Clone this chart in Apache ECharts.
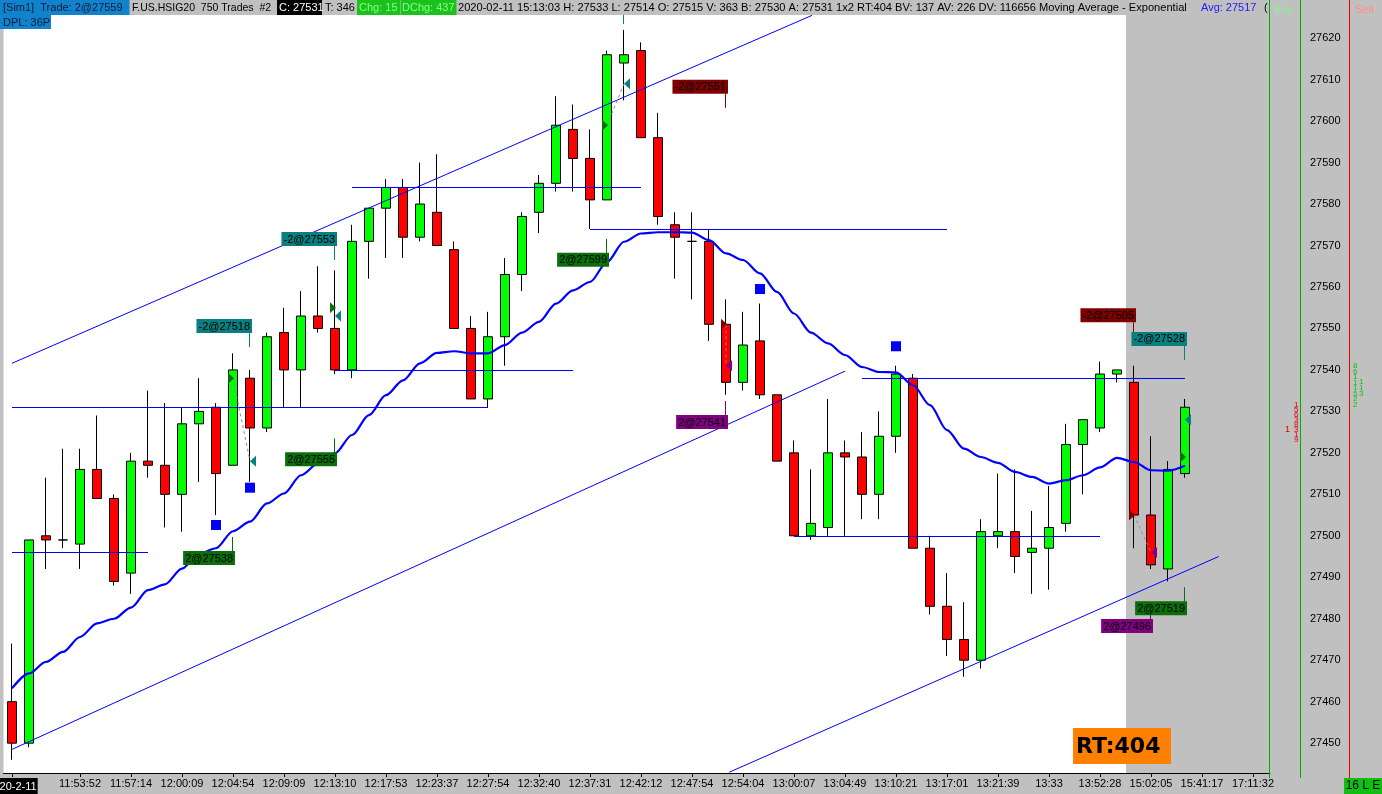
<!DOCTYPE html>
<html><head><meta charset="utf-8">
<script src="https://cdn.jsdelivr.net/npm/echarts@6/dist/echarts.min.js"></script>
<style>html,body{margin:0;padding:0;background:#c0c0c0;overflow:hidden}#c{width:1382px;height:794px}</style>
</head><body><div id="c"></div>
<script>
// ---------- data ----------
const opens  = [27460,27450,27500,27499,27498,27516,27509,27491,27518,27517,27510,27527,27531,27517,27538,27526,27549,27540,27553,27550,27540,27571,27579,27584,27572,27578,27569,27550,27533,27548,27563,27578,27585,27598,27591,27581,27614,27617,27596,27575,27571,27571,27551,27537,27547,27534,27520,27500,27502,27520,27519,27510,27524,27538,27497,27483,27475,27470,27500,27501,27496,27497,27503,27522,27526,27539,27537,27505,27492,27515];
const closes = [27450,27499,27499,27499,27516,27509,27489,27518,27517,27510,27527,27530,27515,27540,27526,27548,27540,27553,27550,27540,27571,27579,27584,27572,27580,27570,27550,27533,27548,27563,27577,27585,27599,27591,27581,27616,27616,27596,27577,27572,27571,27551,27537,27546,27534,27518,27500,27503,27520,27519,27510,27524,27539,27497,27483,27475,27470,27501,27501,27495,27497,27502,27522,27528,27539,27540,27505,27493,27516,27531];
const lows   = [27446,27449,27492,27497,27492,27509,27488,27486,27514,27502,27501,27513,27505,27517,27513,27525,27531,27531,27549,27539,27538,27562,27567,27567,27571,27570,27550,27533,27531,27541,27559,27573,27583,27583,27574,27581,27605,27596,27575,27562,27557,27547,27534,27535,27533,27518,27500,27499,27500,27500,27504,27504,27520,27497,27481,27471,27466,27468,27497,27491,27486,27487,27501,27510,27525,27537,27497,27492,27489,27514];
const highs  = [27474,27499,27514,27521,27521,27529,27510,27520,27535,27532,27531,27538,27532,27544,27540,27549,27555,27559,27565,27564,27575,27579,27586,27586,27590,27592,27571,27553,27554,27567,27578,27587,27606,27604,27598,27617,27622,27619,27602,27578,27578,27574,27557,27554,27556,27534,27523,27516,27533,27523,27525,27530,27541,27539,27500,27491,27484,27504,27515,27516,27506,27512,27527,27528,27542,27540,27541,27524,27518,27533];
const emaValues = [27463.2,27466.8,27469.6,27472,27475.6,27478.9,27480,27482.7,27486.9,27488.3,27492.1,27495.7,27497,27501.1,27503.4,27507.8,27510.2,27514.6,27517.4,27519.9,27524.3,27529.1,27533.9,27537.5,27541.6,27544.1,27544.5,27544,27544,27546,27549,27551.6,27556,27559.2,27561.2,27566,27570.9,27572.9,27573.2,27573.2,27573.1,27571.3,27568.1,27566.5,27563.3,27558.8,27553.6,27549,27546.4,27543.6,27540.7,27539.5,27539.4,27536.3,27531.5,27525.5,27521,27519,27517.6,27515.4,27514.2,27512.6,27513.4,27514.6,27516.5,27518.8,27517.8,27515.8,27515.7,27516.9];

const tickIdx  = [0,4,7,10,13,16,19,22,25,28,31,34,37,40,43,46,49,52,55,58,61,64,67,70,73];
const tickText = ['2020-2-11','11:53:52','11:57:14','12:00:09','12:04:54','12:09:09','12:13:10','12:17:53','12:23:37','12:27:54','12:32:40','12:37:31','12:42:12','12:47:54','12:54:04','13:00:07','13:04:49','13:10:21','13:17:01','13:21:39','13:33','13:52:28','15:02:05','15:41:17','17:11:32'];
const priceTicks = [27450,27460,27470,27480,27490,27500,27510,27520,27530,27540,27550,27560,27570,27580,27590,27600,27610,27620];

// horizontal levels
const levelPrice = [27496,27531,27540,27584,27574,27538,27500];
const levelFrom  = [0,0,19,20,34,50,46];
const levelTo    = [8,28,33,37,55,69,64];
// channel lines
const chanX0 = [0,0,42.2];
const chanP0 = [27541.6,27448.5,27443];
const chanX1 = [47.06,49,70.98];
const chanP1 = [27625.5,27539.7,27495];

// trades
const tradeText  = ['2@27538','-2@27518','2@27555','-2@27553','2@27599','-2@27609','-2@27551','2@27541','-2@27505','2@27496','2@27519','-2@27528'];
const tradeIdx   = [13,14,19,19,35,36,42,42,66,67,69,69];
const tradePrice = [27538,27518,27555,27553,27599,27609,27551,27541,27505,27496,27519,27528];
const tradeKind  = ['L','X','L','X','L','X','S','C','S','C','L','X'];
const tagLevel   = [27499.7,27545.5,27523.5,27566.5,27571.6,27623.4,27603.2,27532.5,27548.1,27483.3,27487.6,27542.4];
const linkFrom = [0,4,6,8,10];
const linkTo   = [1,5,7,9,11];
// signal squares
const sqIdx   = [12,14,44,52];
const sqPrice = [27502.6,27511.6,27559.5,27545.7];
const futureStart = 65.5;
const lastPrice = 27531;

// ---------- chart ----------
const FONT = '"Liberation Sans", Arial, sans-serif';
const kindColor = {L:'#0a6e0a', X:'#0a7f80', S:'#800000', C:'#800080'};
const chart = echarts.init(document.getElementById('c'), null, {renderer:'canvas', width:1382, height:794});

const candleData = opens.map((o,i)=>[i,o,closes[i],lows[i],highs[i]]);
const emaData = emaValues.map((v,i)=>[i,v]);
const lineData = [];
levelPrice.forEach((p,k)=>lineData.push([levelFrom[k],p,levelTo[k],p]));
chanX0.forEach((x,k)=>lineData.push([x,chanP0[k],chanX1[k],chanP1[k]]));
const tradeData = tradeIdx.map((i,k)=>[i,tradePrice[k],tagLevel[k],k]);
const linkData = linkFrom.map((a,k)=>[tradeIdx[a],tradePrice[a],tradeIdx[linkTo[k]],tradePrice[linkTo[k]]]);
const sqData = sqIdx.map((i,k)=>[i,sqPrice[k]]);

function crisp(v){return Math.round(v)+0.5;}

const G = [];
function rect(x,y,w,h,fill,z){G.push({type:'rect',z:z||100,shape:{x:x,y:y,width:w,height:h},style:{fill:fill},silent:true});}
function txt(x,y,t,fill,font,align,z){G.push({type:'text',z:z||101,x:x,y:y,style:{text:t,fill:fill,font:font||('11px '+FONT),align:align||'left',verticalAlign:'middle'},silent:true});}
function vline(x,y1,y2,col){G.push({type:'line',z:100,shape:{x1:x,y1:y1,x2:x,y2:y2},style:{stroke:col,lineWidth:1},silent:true});}

// header
rect(0,0,1382,15,'#c0c0c0');
rect(0,0,129.5,15,'#1182cc');
txt(3,8,'[Sim1]  Trade: 2@27559','#0d1d3a');
txt(132,8,'F.US.HSIG20  750 Trades  #2','#000','10.5px '+FONT);
rect(277,0,45,15,'#000');
txt(279,8,'C: 27531','#fff');
txt(325,8,'T: 346','#000');
rect(357,0,43,15,'#1cc21c');
txt(359,8,'Chg: 15','#86ff86');
rect(400.5,0,56,15,'#1cc21c');
txt(402,8,'DChg: 437','#86ff86');
txt(458,8,'2020-02-11 15:13:03 H: 27533 L: 27514 O: 27515 V: 363 B: 27530 A: 27531 1x2 RT:404 BV: 137 AV: 226 DV: 116656 Moving Average - Exponential','#000','11.1px '+FONT);
txt(1201,8,'Avg: 27517','#2020f0');
txt(1264,8,'(','#000');
rect(0,15,51,14,'#1182cc');
txt(3,22.5,'DPL: 36P','#0d1d3a');
// right panel
vline(1269.5,0,778,'#00b000');
vline(1300.5,0,778,'#00b000');
vline(1349.5,0,778,'#e00000');
txt(1274,10,'Buy','#90f090');
txt(1355,10,'Sell','#ff8c8c');
// volume profile digits
const vpFont = '8px '+FONT;
['1','5','6','3','8','3','1','9'].forEach((d,k)=>txt(1294,405+k*5,d,'#e00000',vpFont,'left',101));
txt(1285,430,'1','#e00000','9px '+FONT);
['8','6','1','1','1','5','2','2'].forEach((d,k)=>txt(1353,366+k*5.5,d,'#10c010',vpFont,'left',101));
['1','1','3'].forEach((d,k)=>txt(1359,382+k*6,d,'#10c010',vpFont,'left',101));
// bottom right
rect(1344,778,38,16,'#10c010');
txt(1363,786,'16 L E','#000','12px '+FONT,'center');
// RT box
rect(1073,728,98,36,'#ff8000',50);
txt(1076,747,'RT:404','#000','bold 22px "DejaVu Sans", sans-serif','left',51);

const option = {
  animation:false,
  backgroundColor:'#c0c0c0',
  grid:{left:3.5,right:112,top:0,bottom:21,show:true,backgroundColor:'#ffffff',borderWidth:0,containLabel:false,outerBoundsMode:'none'},
  xAxis:{type:'value',min:-0.5,max:74,
    axisLine:{show:true,lineStyle:{color:'#000',width:1}},
    axisTick:{show:true,customValues:tickIdx,length:4,lineStyle:{color:'#000'}},
    splitLine:{show:false},
    axisLabel:{customValues:tickIdx,margin:5,color:'#000',fontSize:11,fontFamily:FONT,hideOverlap:false,
      formatter:function(v){const k=tickIdx.indexOf(Math.round(v));const t=k>=0?tickText[k]:'';return k===0?'{d|'+t+'}':t;},
      rich:{d:{backgroundColor:'#000',color:'#fff',fontSize:11,fontFamily:FONT,padding:[3,1,3,1]}}}
  },
  yAxis:{type:'value',position:'right',min:27442.8,max:27629.2,
    axisLine:{show:false},axisTick:{show:false},splitLine:{show:false},
    axisLabel:{customValues:priceTicks,margin:40,color:'#000',fontSize:11,fontFamily:FONT,formatter:function(v){return String(Math.round(v));}}
  },
  graphic:{elements:G},
  series:[
    {type:'custom',z:1,silent:true,clip:true,data:[[futureStart,74]],encode:{x:[0,1]},
      renderItem:function(params,api){
        const cs=params.coordSys;const a=api.coord([api.value(0),27500]);const b=api.coord([api.value(1),27500]);
        return {type:'rect',shape:{x:Math.round(a[0]),y:cs.y,width:b[0]-Math.round(a[0]),height:cs.height},style:{fill:'#c0c0c0'}};
      }},
    {type:'candlestick',z:2,data:candleData,barWidth:10,silent:true,
      itemStyle:{color:'#00ff00',color0:'#ff0000',borderColor:'#000',borderColor0:'#000',borderColorDoji:'#000',borderWidth:1},
      markLine:{silent:true,symbol:'none',data:[{yAxis:lastPrice}],lineStyle:{opacity:0},
        label:{show:true,position:'end',distance:38,formatter:String(lastPrice),backgroundColor:'#000',color:'#fff',fontSize:11,fontFamily:FONT,padding:[3,2,2,2]}}},
    {type:'custom',z:3,silent:true,clip:true,data:lineData,encode:{x:[0,2],y:[1,3]},
      renderItem:function(params,api){
        const a=api.coord([api.value(0),api.value(1)]);const b=api.coord([api.value(2),api.value(3)]);
        let y1=a[1],y2=b[1];if(Math.abs(y1-y2)<0.01){y1=y2=crisp(y1);}
        return {type:'line',shape:{x1:a[0],y1:y1,x2:b[0],y2:y2},style:{stroke:'#0000ff',lineWidth:1}};
      }},
    {type:'line',z:4,data:emaData,showSymbol:false,symbol:'none',smooth:0.3,smoothMonotone:'x',silent:true,
      lineStyle:{color:'#0000ff',width:2.2}},
    {type:'custom',z:5,silent:true,clip:false,data:linkData,encode:{x:[0,2],y:[1,3]},
      renderItem:function(params,api){
        const a=api.coord([api.value(0),api.value(1)]);const b=api.coord([api.value(2),api.value(3)]);
        const col=params.dataIndex===linkData.length-1?'#40e040':'#8c8c8c';
        return {type:'line',shape:{x1:a[0],y1:a[1],x2:b[0],y2:b[1]},style:{stroke:col,lineWidth:1,lineDash:[3,3]}};
      }},
    {type:'custom',z:6,silent:true,clip:false,data:tradeData,encode:{x:0,y:1},
      renderItem:function(params,api){
        const k=api.value(3);const kind=tradeKind[k];const col=kindColor[kind];
        const p=api.coord([api.value(0),api.value(1)]);
        const t=api.coord([api.value(0),api.value(2)]);
        const entry=(kind==='L'||kind==='S');
        const below=(kind==='L'||kind==='C');
        const tx=p[0]+(entry?1:0), ty=p[1];
        const tri=entry?[[tx-6,ty-5.5],[tx,ty],[tx-6,ty+5.5]]:[[tx+6,ty-5.5],[tx,ty],[tx+6,ty+5.5]];
        const x=Math.round(t[0])-0.5;const y=t[1];const y2=below?y+14:y-14;
        return {type:'group',children:[
          {type:'polygon',shape:{points:tri},style:{fill:col}},
          {type:'line',shape:{x1:x,y1:y,x2:x,y2:y2},style:{stroke:col,lineWidth:1}},
          {type:'text',style:{text:tradeText[k],x:x+2.5,y:y2,align:'right',verticalAlign:below?'top':'bottom',fill:'#000',font:'11px '+FONT,backgroundColor:col,padding:[2,2,1,2]}}
        ]};
      }},
    {type:'scatter',z:6,silent:true,data:sqData,symbol:'rect',symbolSize:10,itemStyle:{color:'#0000ff',opacity:1}}
  ]
};
chart.setOption(option);
</script>
</body></html>
